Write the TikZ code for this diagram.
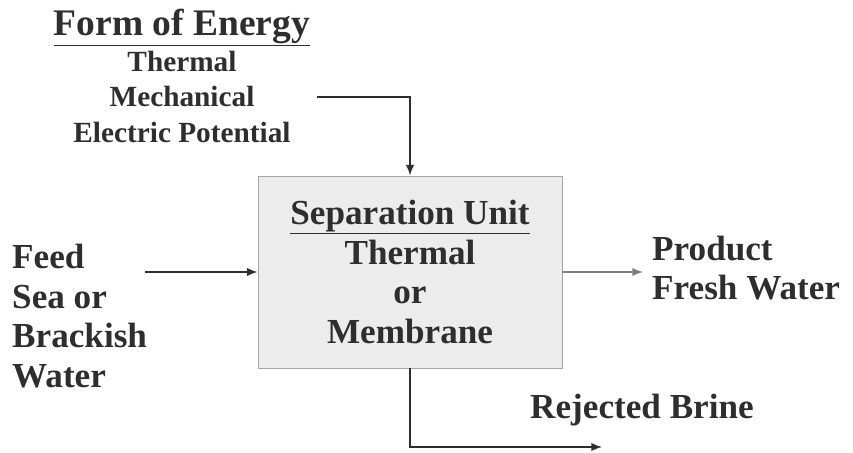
\documentclass[tikz,border=0pt]{standalone}
\usepackage{fontspec}
\setmainfont{Liberation Serif}
\usepackage{xcolor}
\definecolor{ink}{HTML}{2E2E2E}
\definecolor{unitfill}{HTML}{ECECEC}
\usetikzlibrary{positioning,arrows.meta}

\begin{document}
\begin{tikzpicture}[x=0.03cm,y=-0.03cm,
    bigtext/.style={text=ink,font=\fontsize{30}{34}\selectfont\bfseries,inner sep=0pt},
    smalltext/.style={text=ink,font=\fontsize{25}{30.5}\selectfont\bfseries,inner sep=0pt,align=center},
    flow/.style={draw=ink,line width=1.1pt,-{Latex[length=9pt,width=7pt]}}]
  \useasboundingbox (0,0) rectangle (853,452);

  % separation unit
  \node[bigtext,draw=gray!70,fill=unitfill,line width=0.8pt,minimum width=9.12cm,minimum height=5.76cm,align=center] (unit) at (410,272)
    {\underline{Separation Unit}\\Thermal\\or\\Membrane};

  % energy input
  \node[smalltext] (energy) at (182,76)
    {{\fontsize{32}{34}\selectfont\underline{Form of Energy}}\\Thermal\\Mechanical\\Electric Potential};
  \coordinate (energyout) at (317,97);
  \draw[flow] (energyout) -| (unit.north);

  % feed
  \node[bigtext,align=left,anchor=west] (feed) at (12,316)
    {Feed\\Sea or\\Brackish\\Water};
  \coordinate (feedin) at (145,272);
  \draw[flow] (feedin) -- (unit.west);

  % product
  \node[bigtext,align=left,anchor=west] (product) at (652,268)
    {Product\\Fresh Water};
  \coordinate (productend) at (643,272);
  \draw[flow,draw=gray] (unit.east) -- (productend);

  % brine
  \node[bigtext,anchor=west] (brine) at (530,410) {Rejected Brine};
  \coordinate (brineend) at (602,447);
  \draw[flow] (unit.south) |- (brineend);
\end{tikzpicture}
\end{document}
